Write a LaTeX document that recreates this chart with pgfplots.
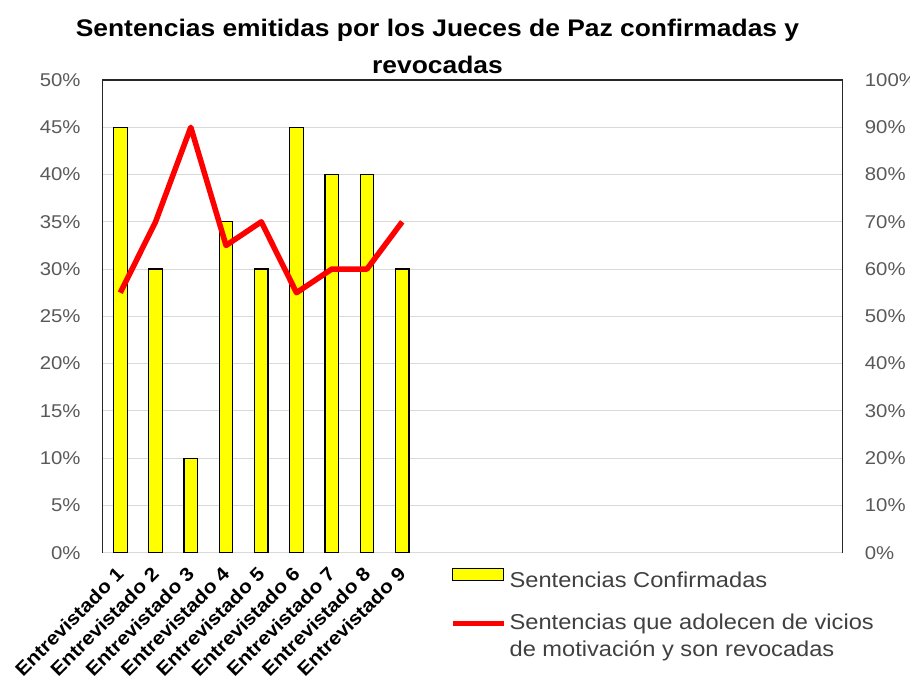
\documentclass[border=0pt]{standalone}
\usepackage{fontspec}
\setmainfont[FakeStretch=1.1]{Liberation Sans}
\usepackage{pgfplots}
\pgfplotsset{compat=1.18}
\definecolor{tickgray}{HTML}{595959}
\definecolor{gridgray}{HTML}{D9D9D9}
\definecolor{legtext}{HTML}{404040}
\definecolor{baryellow}{HTML}{FFFF00}
\definecolor{linered}{HTML}{FF0000}
\definecolor{framegray}{HTML}{262626}
\begin{document}
\begin{tikzpicture}[x=1pt,y=1pt]
\path[use as bounding box] (0,0) rectangle (910,682);
\node[anchor=base, font=\bfseries\fontsize{24}{28}\selectfont] at (437.5,645.3) {Sentencias emitidas por los Jueces de Paz confirmadas y};
\node[anchor=base, font=\bfseries\fontsize{24}{28}\selectfont] at (437.5,608) {revocadas};
\begin{axis}[
  at={(102.7pt,129.3pt)}, anchor=south west,
  scale only axis, width=740pt, height=472.7pt,
  xmin=0.5, xmax=21.5, ymin=0, ymax=50,
  ytick={0,5,...,50},
  xtick={1,2,3,4,5,6,7,8,9},
  xticklabels={Entrevistado 1,Entrevistado 2,Entrevistado 3,Entrevistado 4,Entrevistado 5,Entrevistado 6,Entrevistado 7,Entrevistado 8,Entrevistado 9},
  axis line style={draw=none},
  major tick length=0pt,
  ymajorgrids, grid style={gridgray, line width=1pt},
  /pgf/number format/assume math mode=true,
  yticklabel={\pgfmathprintnumber{\tick}\%},
  yticklabel style={font=\fontsize{18.5}{20}\selectfont, text=tickgray, anchor=east, inner sep=0pt, xshift=-22pt},
  xticklabel style={font=\bfseries\fontsize{19}{21}\selectfont, yshift=-18pt, xshift=0pt, rotate=45, anchor=east, inner sep=0pt},
  ybar, bar width=13.6pt,
  clip=false,
]
\addplot[fill=baryellow, draw=black, line width=1.2pt] coordinates {
(1,45) (2,30) (3,10) (4,35) (5,30) (6,45) (7,40) (8,40) (9,30)};
\draw[framegray, line width=1.3pt] (rel axis cs:0,0) -- (rel axis cs:0,1) -- (rel axis cs:1,1) -- (rel axis cs:1,0);
\end{axis}
\begin{axis}[
  at={(102.7pt,129.3pt)}, anchor=south west,
  scale only axis, width=740pt, height=472.7pt,
  xmin=0.5, xmax=21.5, ymin=0, ymax=100,
  axis x line=none, axis y line*=right,
  axis line style={draw=none},
  major tick length=0pt,
  ytick={0,10,...,100},
  /pgf/number format/assume math mode=true,
  yticklabel={\pgfmathprintnumber{\tick}\%},
  yticklabel style={font=\fontsize{18.5}{20}\selectfont, text=tickgray, anchor=west, inner sep=0pt, xshift=22pt},
  legend style={at={(0.4652,-0.028)}, anchor=north west, draw=none, fill=none,
    font=\fontsize{21.5}{27}\selectfont, text=legtext, row sep=25pt,
    nodes={inner sep=0pt, align=left}, column sep=3pt},
  legend cell align=left,
]
\addlegendimage{legend image code/.code={\draw[fill=baryellow, draw=black, line width=1.2pt] (0pt,0pt) rectangle (51pt,12pt);}}
\addplot[linered, line width=5.5pt, line join=round, mark=none,
  legend image code/.code={\draw[linered, line width=5.5pt] (0pt,13pt) -- (51pt,13pt);}] coordinates {
(1,55) (2,70) (3,90) (4,65) (5,70) (6,55) (7,60) (8,60) (9,70)};
\legend{Sentencias Confirmadas, {Sentencias que adolecen de vicios\\de motivación y son revocadas}}
\end{axis}
\end{tikzpicture}
\end{document}
